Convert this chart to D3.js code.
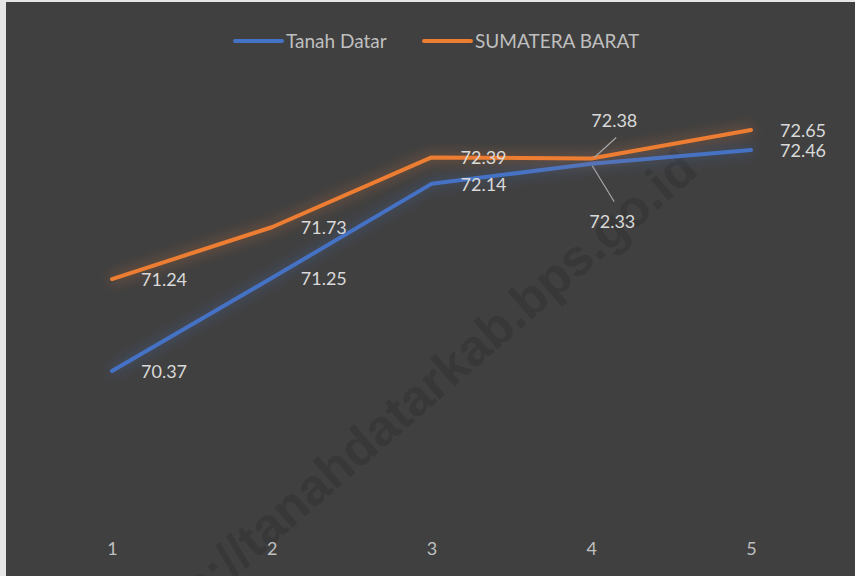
<!DOCTYPE html>
<html>
<head>
<meta charset="utf-8">
<script src="https://cdn.jsdelivr.net/npm/d3@7"></script>
<style>
  body { margin: 0; background: #d9d9d9; }
  text { font-family: Lato, "Open Sans", sans-serif; }
</style>
</head>
<body>
<div id="chart"></div>
<script>
// data
var categories = [1, 2, 3, 4, 5]
var tanahDatar = [70.37, 71.25, 72.14, 72.33, 72.46]
var sumbar = [71.24, 71.73, 72.39, 72.38, 72.65]
var seriesNames = ['Tanah Datar', 'SUMATERA BARAT']

var width = 855
var height = 576

var svg = d3.select('#chart').append('svg')
  .attr('width', width)
  .attr('height', height)

// frame + dark background
svg.append('rect').attr('width', width).attr('height', height).attr('fill', '#e6e6e6')
svg.append('rect').attr('x', 6).attr('y', 2).attr('width', width - 6).attr('height', height - 2).attr('fill', '#404040')

// glow filters
var defs = svg.append('defs')
function glow(id) {
  var f = defs.append('filter').attr('id', id)
    .attr('x', '-20%').attr('y', '-50%').attr('width', '140%').attr('height', '200%')
  f.append('feGaussianBlur').attr('in', 'SourceGraphic').attr('stdDeviation', 7).attr('result', 'b')
  f.append('feComponentTransfer').attr('in', 'b').attr('result', 'bf')
    .append('feFuncA').attr('type', 'linear').attr('slope', 0.6)
  var m = f.append('feMerge')
  m.append('feMergeNode').attr('in', 'bf')
  m.append('feMergeNode').attr('in', 'SourceGraphic')
}
glow('glowBlue')
glow('glowOrange')

// watermark
svg.append('text')
  .attr('transform', 'translate(700,173) rotate(-41)')
  .attr('text-anchor', 'end')
  .attr('font-size', 51)
  .attr('font-weight', 'bold')
  .style('font-family', '"Liberation Sans", Arial, sans-serif')
  .attr('fill', '#383838')
  .text('https://tanahdatarkab.bps.go.id')

// scales
var x = d3.scalePoint()
  .domain(categories)
  .range([112, 751])

var y = d3.scaleLinear()
  .domain([69, 73.5])
  .range([516, 40])

// x axis labels
var xAxis = d3.axisBottom(x).tickSize(0).tickPadding(0)
var gx = svg.append('g').attr('transform', 'translate(0,542)').call(xAxis)
gx.select('.domain').remove()
gx.selectAll('text')
  .attr('font-size', 18)
  .attr('fill', '#bfbfbf')
  .style('font-family', 'Lato, sans-serif')

var line = d3.line()
  .x(function(d, i) { return x(categories[i]) })
  .y(function(d) { return y(d) })

var series = [
  { name: seriesNames[0], values: tanahDatar, color: '#4472c4', filter: 'glowBlue' },
  { name: seriesNames[1], values: sumbar, color: '#ed7d31', filter: 'glowOrange' }
]

series.forEach(function(s) {
  svg.append('path')
    .datum(s.values)
    .attr('d', line)
    .attr('fill', 'none')
    .attr('stroke', s.color)
    .attr('stroke-width', 4)
    .attr('stroke-linecap', 'round')
    .attr('stroke-linejoin', 'round')
    .attr('filter', 'url(#' + s.filter + ')')
})

// data labels (right of the point, except the two at point 4 with leader lines)
series.forEach(function(s, si) {
  s.values.forEach(function(v, i) {
    var px = x(categories[i]), py = y(v)
    var lx = px + 29, ly = py + 7
    if (i === 3) {
      if (si === 0) {
        svg.append('line').attr('x1', px + 1).attr('y1', py + 2).attr('x2', px + 23).attr('y2', py + 38)
          .attr('stroke', '#a6a6a6').attr('stroke-width', 1.2)
        lx = px - 2; ly = py + 64
      } else {
        svg.append('line').attr('x1', px + 3).attr('y1', py - 1).attr('x2', px + 25).attr('y2', py - 21)
          .attr('stroke', '#a6a6a6').attr('stroke-width', 1.2)
        lx = px; ly = py - 31
      }
    }
    svg.append('text')
      .attr('x', lx)
      .attr('y', ly)
      .attr('font-size', 18)
      .attr('fill', '#d9d9d9')
      .text(v.toFixed(2))
  })
})

// legend
var legend = svg.append('g').attr('transform', 'translate(234,41)')
var legX = [0, 189]
series.forEach(function(s, i) {
  var g = legend.append('g').attr('transform', 'translate(' + legX[i] + ',0)')
  g.append('line').attr('x1', 1).attr('x2', 48).attr('y1', 0).attr('y2', 0)
    .attr('stroke', s.color).attr('stroke-width', 4).attr('stroke-linecap', 'round')
  g.append('text').attr('x', 52).attr('y', 7)
    .attr('font-size', 19)
    .attr('fill', '#bfbfbf')
    .text(s.name)
})
</script>
</body>
</html>
